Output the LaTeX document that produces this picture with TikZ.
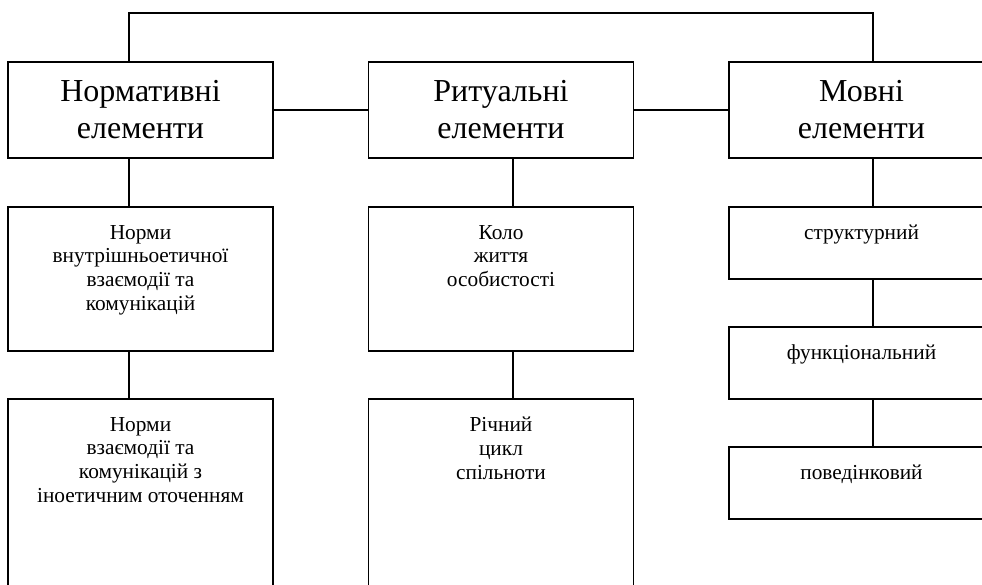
\documentclass[tikz,border=0pt]{standalone}
\usepackage{fontspec}
\setmainfont{Liberation Serif}
\usetikzlibrary{positioning}

\tikzset{
  elbox/.style={draw, line width=1.2pt, inner sep=0pt, minimum width=198.75pt},
  bigtext/.style={font=\fontsize{24}{27.75}\selectfont, align=center},
  smalltext/.style={font=\fontsize{16}{17.9}\selectfont, align=center, inner sep=0pt, anchor=north},
  link/.style={line width=1.2pt},
}

\begin{document}
\begin{tikzpicture}[x=0.75pt,y=0.75pt,yscale=-1,xscale=1]
        \useasboundingbox (0,0) rectangle (982,585);

        % Top level
        \node [elbox, bigtext, minimum height=72pt] (nor) at (140.5,110) {Нормативні\\елементи};
        \node [elbox, bigtext, minimum height=72pt] (rit) at (501,110) {Ритуальні\\елементи};
        \node [elbox, bigtext, minimum height=72pt] (mov) at (861.5,110) {Мовні\\елементи};

        % Normative column
        \node [elbox, minimum height=108pt] (nor1) at (140.5,279) {};
        \node [smalltext] (nor1t) at ([yshift=14pt]nor1.north) {Норми\\внутрішньоетичної\\взаємодії та\\комунікацій};
        \node [elbox, minimum height=150pt] (nor2) at (140.5,499) {};
        \node [smalltext] (nor2t) at ([yshift=14pt]nor2.north) {Норми\\взаємодії та\\комунікацій з\\іноетичним оточенням};

        % Ritual column
        \node [elbox, minimum height=108pt] (rit1) at (501,279) {};
        \node [smalltext] (rit1t) at ([yshift=14pt]rit1.north) {Коло\\життя\\особистості};
        \node [elbox, minimum height=150pt] (rit2) at (501,499) {};
        \node [smalltext] (rit2t) at ([yshift=14pt]rit2.north) {Річний\\цикл\\спільноти};

        % Language column
        \node [elbox, minimum height=54pt] (mov1) at (861.5,243) {};
        \node [smalltext] (mov1t) at ([yshift=14pt]mov1.north) {структурний};
        \node [elbox, minimum height=54pt] (mov2) at (861.5,363) {};
        \node [smalltext] (mov2t) at ([yshift=14pt]mov2.north) {функціональний};
        \node [elbox, minimum height=54pt] (mov3) at (861.5,483) {};
        \node [smalltext] (mov3t) at ([yshift=14pt]mov3.north) {поведінковий};

        % Connectors
        \draw [link] ([xshift=-8.6pt]nor.north) -- ++(0,-48) -| ([xshift=8.6pt]mov.north);
        \draw [link] (nor.east) -- (rit.west);
        \draw [link] (rit.east) -- (mov.west);
        \draw [link] ([xshift=-8.6pt]nor.south) -- ([xshift=-8.6pt]nor1.north);
        \draw [link] ([xshift=-8.6pt]nor1.south) -- ([xshift=-8.6pt]nor2.north);
        \draw [link] ([xshift=9pt]rit.south) -- ([xshift=9pt]rit1.north);
        \draw [link] ([xshift=9pt]rit1.south) -- ([xshift=9pt]rit2.north);
        \draw [link] ([xshift=8.6pt]mov.south) -- ([xshift=8.6pt]mov1.north);
        \draw [link] ([xshift=8.6pt]mov1.south) -- ([xshift=8.6pt]mov2.north);
        \draw [link] ([xshift=8.6pt]mov2.south) -- ([xshift=8.6pt]mov3.north);

\end{tikzpicture}
\end{document}
